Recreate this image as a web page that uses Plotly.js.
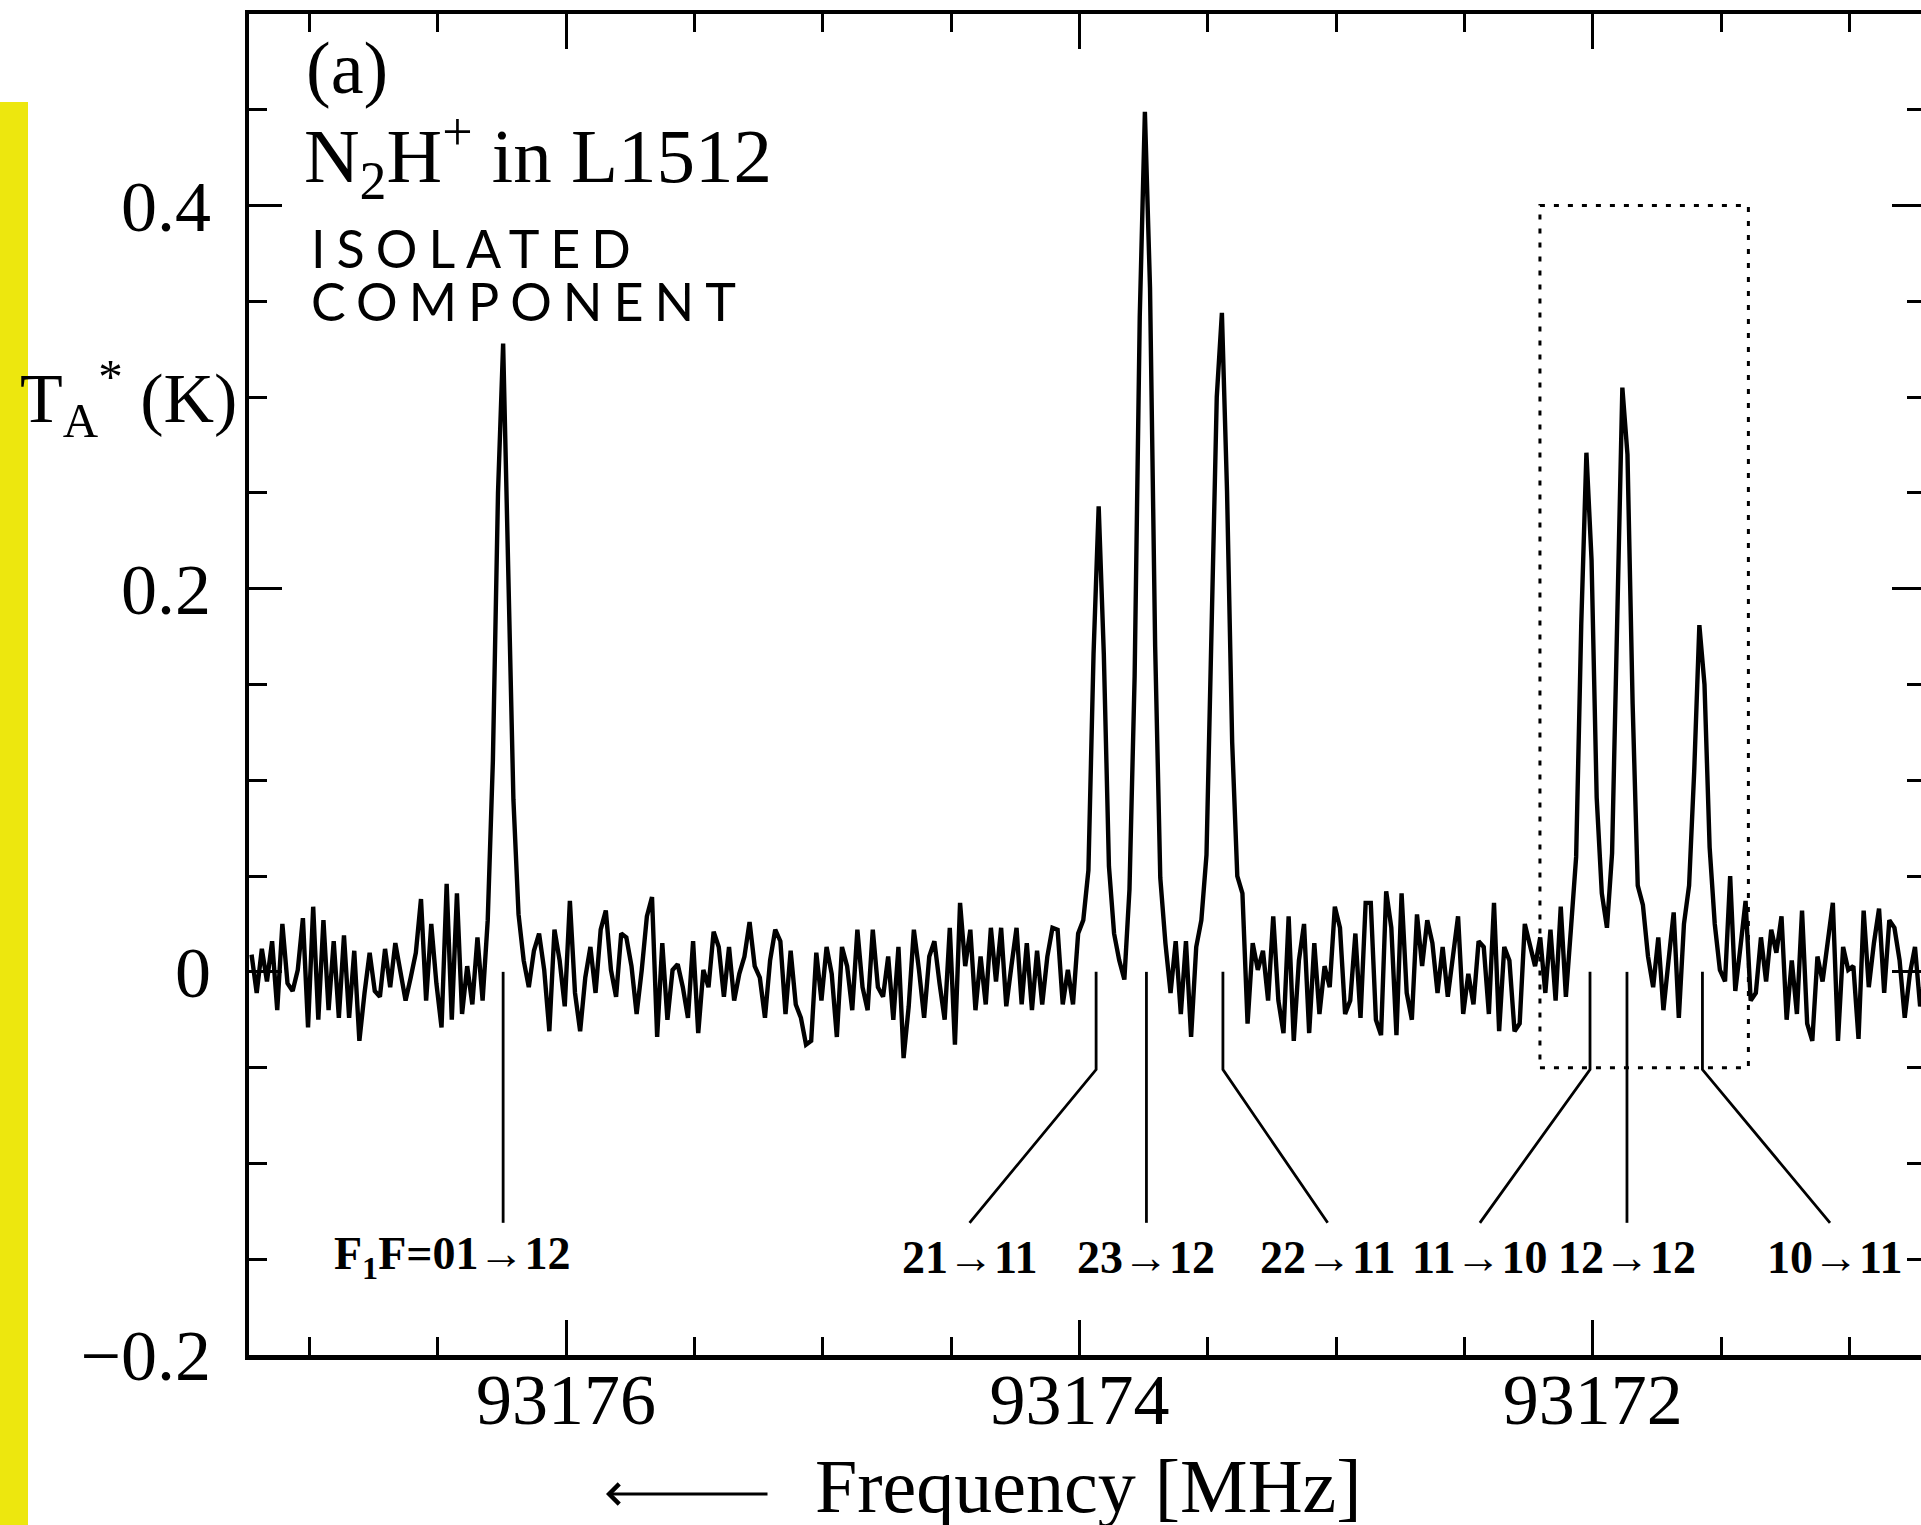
<!DOCTYPE html>
<html><head><meta charset="utf-8">
<script src="https://cdn.plot.ly/plotly-3.0.1.min.js"></script>
<style>html,body{margin:0;padding:0;overflow:hidden;background:#fff}</style>
</head><body>
<div id="chart" style="width:1925px;height:1525px"></div>
<script>
// ---- data ----
const freqStart = 93177.225;   // MHz, first channel
const chanStep = -0.02;        // MHz per channel
const ta = [
 0.009,-0.011,0.012,-0.005,0.016,-0.020,0.025,-0.006,-0.010,0.001,
 0.028,-0.029,0.034,-0.025,0.027,-0.020,0.016,-0.024,0.019,-0.024,
 0.011,-0.036,-0.011,0.010,-0.010,-0.013,0.012,-0.008,0.015,-0.001,
 -0.015,-0.003,0.010,0.038,-0.015,0.025,-0.006,-0.029,0.046,-0.025,
 0.041,-0.022,0.003,-0.017,0.018,-0.015,0.027,0.110,0.250,0.328,
 0.220,0.090,0.030,0.006,-0.008,
 0.011,0.020,0.001,-0.031,0.022,0.006,-0.018,0.037,-0.011,-0.031,
 -0.003,0.013,-0.011,0.022,0.032,0.001,-0.013,0.020,0.018,0.003,
 -0.022,0.001,0.029,0.039,-0.034,0.015,-0.025,0.001,0.004,-0.008,
 -0.024,0.016,-0.032,0.001,-0.008,0.021,0.013,-0.013,0.013,-0.015,
 -0.001,0.008,0.026,0.003,-0.003,-0.024,0.006,0.022,0.016,-0.022,
 0.011,-0.017,-0.024,-0.038,
 -0.036,0.010,-0.015,0.013,-0.001,-0.034,0.013,0.003,-0.020,0.022,
 -0.008,-0.020,0.022,-0.008,-0.013,0.008,-0.025,0.013,-0.045,-0.018,
 0.022,0.001,-0.024,0.008,0.016,-0.006,-0.025,0.023,-0.038,0.036,
 0.003,0.022,-0.020,0.008,-0.017,0.023,-0.005,0.023,-0.018,0.003,
 0.023,-0.017,0.015,-0.020,0.011,-0.017,0.008,0.023,0.022,-0.017,
 0.001,-0.017,0.020,0.027,0.053,
 0.166,0.243,0.166,0.055,0.020,0.006,-0.004,0.043,0.154,0.342,
 0.449,0.357,0.170,0.049,0.015,-0.011,0.016,-0.022,0.016,-0.034,
 0.013,0.027,0.061,0.171,0.300,0.344,0.251,0.120,0.050,0.041,
 -0.027,0.015,0.001,0.011,-0.015,0.029,-0.015,-0.032,0.029,-0.036,
 0.006,0.025,-0.032,0.015,-0.022,0.003,-0.008,0.034,0.023,-0.022,
 -0.015,0.020,-0.024,0.036,
 0.036,-0.025,-0.033,0.042,0.023,-0.033,0.041,-0.011,-0.025,0.030,
 0.003,0.027,0.015,-0.011,0.013,-0.013,0.006,0.029,-0.022,-0.001,
 -0.017,0.016,0.013,-0.022,0.036,-0.031,0.013,0.006,-0.031,-0.027,
 0.025,0.015,0.003,0.018,-0.011,0.022,-0.015,0.034,-0.013,0.023,
 0.060,0.182,0.271,0.215,0.091,0.041,0.023,0.062,0.183,0.305,
 0.270,0.140,0.045,0.035,0.008,
 -0.008,0.018,-0.020,0.006,0.031,-0.024,0.025,0.045,0.105,0.181,
 0.150,0.065,0.025,0.001,-0.005,0.050,-0.010,0.013,0.037,-0.015,
 -0.011,0.018,-0.005,0.022,0.010,0.029,-0.025,0.006,-0.022,0.032,
 -0.027,-0.036,0.008,-0.005,0.016,0.036,-0.036,0.013,0.001,0.003,
 -0.035,0.032,-0.008,0.015,0.033,-0.011,0.027,0.023,0.006,-0.024,
 -0.001,0.013,-0.018,-0.001
];
const xTickVals = [93176, 93174, 93172];
const xTickText = ['93176', '93174', '93172'];
const yTickVals = [-0.2, 0, 0.2, 0.4];
const yTickText = ['\u22120.2', '0', '0.2', '0.4'];

const hfsLabels = ['F<sub>1</sub>F=01\u219212', '21\u219211', '23\u219212', '22\u219211', '11\u219210', '12\u219212', '10\u219211'];
const hfsFreq = [93176.245, 93173.935, 93173.739, 93173.441, 93172.011, 93171.867, 93171.573];
const leaderEndFreq = [93176.245, 93174.428, 93173.739, 93173.033, 93172.440, 93171.867, 93171.076];
const labelFreq = [93176.444, 93174.428, 93173.739, 93173.033, 93172.440, 93171.867, 93171.060];
const boxFreq = [93172.206, 93171.394];
const boxTA = [-0.05, 0.4];

// ---- layout geometry ----
const W = 1925, H = 1525, L = 249, R = 0, T = 14, B = 170;
const pw = W - L - R, ph = H - T - B;
const px = X => (X - L) / pw;
const py = Y => (H - B - Y) / ph;

const freq = ta.map((_, i) => freqStart + i * chanStep);

const spectrum = {
  x: freq, y: ta, type: 'scatter', mode: 'lines',
  line: {color: '#000', width: 4.4}, hoverinfo: 'skip', showlegend: false
};

const lx = [], ly = [];
hfsFreq.forEach((f, i) => {
  const e = leaderEndFreq[i];
  if (Math.abs(e - f) < 1e-6) {
    lx.push(f, f, null); ly.push(0, -0.131, null);
  } else {
    lx.push(f, f, e, null); ly.push(0, -0.051, -0.131, null);
  }
});
const leaders = {
  x: lx, y: ly, type: 'scatter', mode: 'lines',
  line: {color: '#000', width: 2.8}, hoverinfo: 'skip', showlegend: false
};

const serif = 'Liberation Serif, Times New Roman, serif';
const annotations = hfsLabels.map((t, i) => ({
  x: labelFreq[i], y: -0.149, xref: 'x', yref: 'y', text: '<b>' + t + '</b>',
  showarrow: false, xanchor: 'center', yanchor: 'middle',
  font: {family: serif, size: 46, color: '#000'}
}));

annotations.push(
  {x: px(304), y: py(68), xref: 'paper', yref: 'paper', text: '(a)', showarrow: false,
   xanchor: 'left', yanchor: 'middle', font: {family: serif, size: 74, color: '#000'}},
  {x: px(302), y: py(156), xref: 'paper', yref: 'paper', text: 'N<sub>2</sub>H<sup>+</sup> in L1512',
   showarrow: false, xanchor: 'left', yanchor: 'middle', font: {family: serif, size: 77, color: '#000'}},
  {x: px(309), y: py(248), xref: 'paper', yref: 'paper',
   text: '<span style="letter-spacing:11px">ISOLATED</span>', showarrow: false,
   xanchor: 'left', yanchor: 'middle', font: {family: 'Lato, Noto Sans, sans-serif', size: 52, color: '#000'}},
  {x: px(309), y: py(301), xref: 'paper', yref: 'paper',
   text: '<span style="letter-spacing:11px">COMPONENT</span>', showarrow: false,
   xanchor: 'left', yanchor: 'middle', font: {family: 'Lato, Noto Sans, sans-serif', size: 52, color: '#000'}},
  {x: px(18), y: py(398), xref: 'paper', yref: 'paper', text: 'T<sub>A</sub><sup>*</sup> (K)',
   showarrow: false, xanchor: 'left', yanchor: 'middle', font: {family: serif, size: 70, color: '#000'}},
  {x: px(813), y: py(1486), xref: 'paper', yref: 'paper', text: 'Frequency [MHz]',
   showarrow: false, xanchor: 'left', yanchor: 'middle', font: {family: serif, size: 76, color: '#000'}},
  {x: px(606), y: py(1494), xref: 'paper', yref: 'paper', text: '', showarrow: true,
   ax: 163, ay: 0, arrowhead: 4, arrowsize: 1.3, arrowwidth: 3, arrowcolor: '#000', standoff: 0}
);

const shapes = [
  {type: 'rect', xref: 'x', yref: 'y', x0: boxFreq[0], x1: boxFreq[1], y0: boxTA[0], y1: boxTA[1],
   line: {color: '#000', width: 3, dash: '5px,9px'}, fillcolor: 'rgba(0,0,0,0)', layer: 'above'},
  {type: 'rect', xref: 'paper', yref: 'paper', x0: px(0), x1: px(28), y0: py(1525), y1: py(102),
   line: {width: 0}, fillcolor: '#EDE70E', layer: 'above'}
];

const axisCommon = {
  showline: true, linewidth: 4.5, linecolor: '#000', mirror: 'allticks',
  ticks: 'inside', tickwidth: 3, tickcolor: '#000',
  showgrid: false, zeroline: false,
  tickfont: {family: serif, size: 72, color: '#000'}
};

const layout = {
  width: W, height: H,
  margin: {l: L, r: R, t: T, b: B, pad: 0},
  paper_bgcolor: '#fff', plot_bgcolor: '#fff',
  showlegend: false,
  xaxis: Object.assign({}, axisCommon, {
    range: [93177.235, 93170.706], tickmode: 'array', tickvals: xTickVals, ticktext: xTickText,
    ticklen: 35, ticklabelstandoff: -22,
    minor: {tickmode: 'linear', tick0: 93176, dtick: 0.5, ticks: 'inside', ticklen: 18, tickwidth: 3, tickcolor: '#000', showgrid: false}
  }),
  yaxis: Object.assign({}, axisCommon, {
    range: [-0.2, 0.5], tickmode: 'array', tickvals: yTickVals, ticktext: yTickText,
    ticklen: 33, ticklabelstandoff: 19,
    minor: {tickmode: 'linear', tick0: 0, dtick: 0.05, ticks: 'inside', ticklen: 18, tickwidth: 3, tickcolor: '#000', showgrid: false}
  }),
  annotations: annotations,
  shapes: shapes
};

Plotly.newPlot('chart', [spectrum, leaders], layout, {staticPlot: true, displayModeBar: false});
</script>
</body></html>
